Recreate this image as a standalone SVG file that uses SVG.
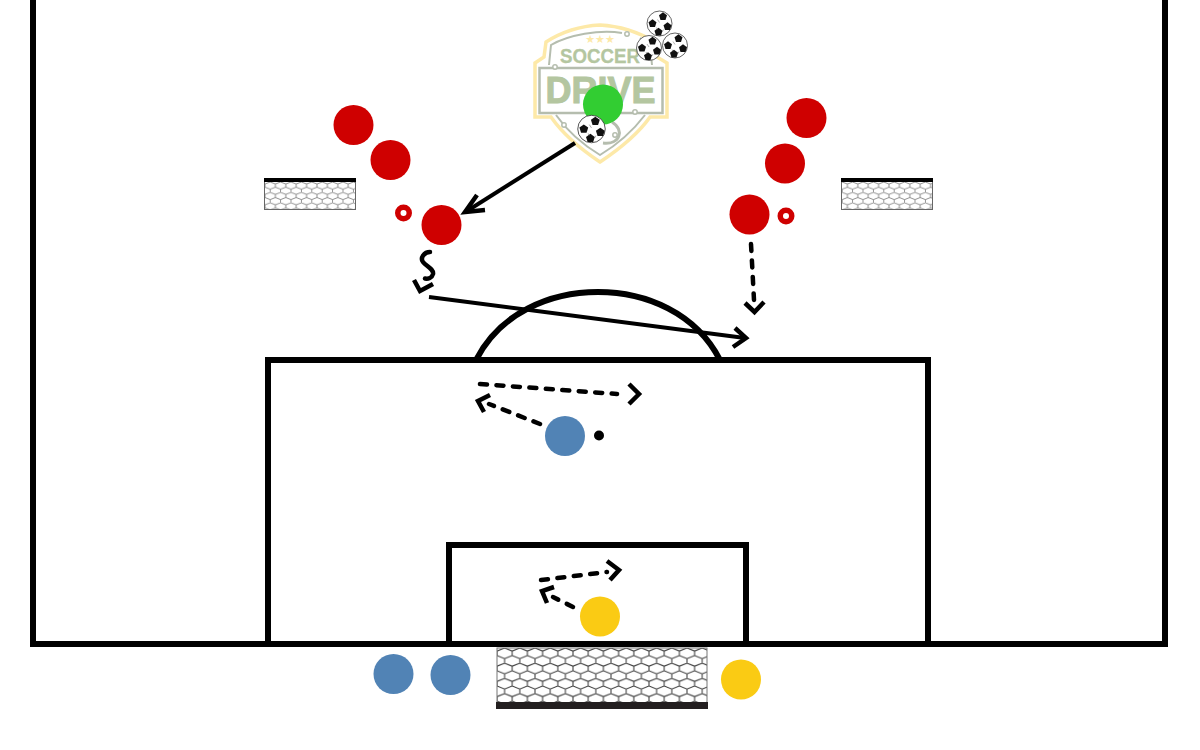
<svg xmlns="http://www.w3.org/2000/svg" width="1200" height="750" viewBox="0 0 1200 750">
<style>
.line{fill:none;stroke:#000;stroke-width:6}
.arrow{fill:none;stroke:#000;stroke-width:4.500;stroke-linecap:round}
.solid{fill:none;stroke:#000;stroke-width:4}
.dash{stroke-dasharray:7 9.500}
.head{fill:none;stroke:#000;stroke-width:4.500;stroke-linecap:butt}
.red{fill:#cf0000}.blue{fill:#5183b5}.yellow{fill:#facb14}.green{fill:#32cd32}
.cone{fill:none;stroke:#cf0000;stroke-width:5.500}
.logo{font-family:"Liberation Sans",Arial,sans-serif;font-weight:700;fill:#b4c6a0;stroke:#b4c6a0}
.lg{fill:none;stroke:#b5bdae;stroke-width:2}
</style>
<defs>
<pattern id="bigNet" width="15.200" height="15.200" patternUnits="userSpaceOnUse" x="497" y="648">
<path d="M0 3 L7.600 0 L15.200 3 M0 3 V7.600 M15.200 3 V7.600 M0 7.600 L7.600 10.600 L15.200 7.600 M7.600 10.600 V15.200" fill="none" stroke="#333" stroke-width="1"/>
</pattern>
<pattern id="smallNet" width="10.400" height="10.400" patternUnits="userSpaceOnUse" x="265" y="182">
<path d="M0 2 L5.200 0 L10.400 2 M0 2 V5.200 M10.400 2 V5.200 M0 5.200 L5.200 7.200 L10.400 5.200 M5.200 7.200 V10.400" fill="none" stroke="#777" stroke-width="0.800"/>
</pattern>
<path id="pent" d="M0 -4.200 L4 -1.300 L2.500 3.400 L-2.500 3.400 L-4 -1.300Z" fill="#111"/>
<g id="ball">
<circle r="12.500" fill="#fff" stroke="#222" stroke-width="0.700"/>
<use href="#pent" x="3.500" y="-7"/>
<use href="#pent" x="-7" y="0"/>
<use href="#pent" x="8" y="3"/>
<use href="#pent" x="-1" y="8.500"/>
<path d="M-2 -4 L0 -1 M-3 4 L-2 6 M4 6 L3 8" stroke="#666" stroke-width="0.500" fill="none"/>
</g>
</defs>
<rect width="1200" height="750" fill="#fff"/>
<g id="logo">
<path d="M600 25 C580 26 560 33 546 42 L544 57 L535 63 L535 117 L551 117 C565 137 585 152 600 162 C615 152 636 137 650 117 L667 117 L667 63 L657 57 L655 42 C640 33 620 26 600 25Z" fill="#fff" stroke="#fde9a8" stroke-width="3.500"/>
<path d="M622 33 C600 29 568 35 551 45 L549 65 M640 38 L650 45 L652 65 M556 115 C568 132 585 146 600 155 C615 146 632 132 645 115" class="lg"/>
<rect x="539.500" y="68" width="123" height="45" fill="none" stroke="#b5bdae" stroke-width="2.500"/>
<path d="M612 122 C625 130 620 145 603 143" fill="none" stroke="#b5bdae" stroke-width="3"/>
<text class="logo" x="600" y="63" font-size="20" text-anchor="middle" stroke-width="0.300" textLength="80" lengthAdjust="spacingAndGlyphs">SOCCER</text>
<text class="logo" x="600.500" y="103" font-size="36" text-anchor="middle" stroke-width="1" textLength="110" lengthAdjust="spacingAndGlyphs">DRIVE</text>
<text x="600" y="43" font-size="11" text-anchor="middle" fill="#fde9a8" font-family="'DejaVu Sans',sans-serif">★★★</text>
<g fill="#fff" stroke="#b5bdae" stroke-width="1.500"><circle cx="555" cy="67" r="2.200"/><circle cx="627" cy="34" r="2.200"/><circle cx="635" cy="112" r="2.200"/><circle cx="564" cy="125" r="2.200"/><circle cx="615" cy="135" r="2.200"/></g>
</g>
<g id="pitch">
<path class="line" d="M33 0V644M1165 0V644M30 644H1168"/>
<path class="line" d="M268 644V360H928V644"/>
<path class="line" d="M449 644V545H746V644"/>
<path class="line" d="M476 360C500 313 550 292 598 292C646 292 696 313 720 360"/>
</g>
<g id="goal-main">
<rect x="497" y="648" width="210" height="55" fill="url(#bigNet)" stroke="#777" stroke-width="1"/>
<rect x="496" y="702" width="212" height="7" fill="#231f20"/>
</g>
<g id="goal-left">
<rect x="264.500" y="180.500" width="91" height="29" fill="url(#smallNet)" stroke="#666" stroke-width="1"/>
<rect x="264" y="178" width="92" height="4" fill="#000"/>
</g>
<g id="goal-right">
<rect x="841.500" y="180.500" width="91" height="29" fill="url(#smallNet)" stroke="#666" stroke-width="1"/>
<rect x="841" y="178" width="92" height="4" fill="#000"/>
</g>
<g id="connectors">
<path class="solid" d="M575 143L467 211"/><path class="head" d="M477 195L465 212L485 210"/>
<path class="arrow" d="M430 252C424 252 420 258 423 262C426 266 434 269 433 274C432 278 428 279 425 278.500" stroke-width="3.500"/>
<path class="head" d="M433 284L420 291L414 280"/>
<path class="solid" d="M429 297L745 338"/><path class="head" d="M735 328L746 338L733 347"/>
<path class="arrow dash" d="M751 244L754 300"/><path class="head" d="M745 303L754.500 312L764 302"/>
<path class="arrow dash" d="M480 384L617 394"/><path class="head" d="M629 384L639 394L629 404"/>
<path class="arrow dash" d="M540 424L489 404"/><path class="head" d="M490 395L478 401L484 412"/>
<path class="arrow dash" d="M541 580L607 572"/><path class="head" d="M607 561L619 570L610 580"/>
<path class="arrow dash" d="M573 607L553 597"/><path class="head" d="M554 587L542 591L547 603"/>
</g>
<g id="red-1"><circle class="red" cx="353.500" cy="125" r="20"/></g>
<g id="red-2"><circle class="red" cx="390.500" cy="160" r="20"/></g>
<g id="red-3"><circle class="red" cx="441.500" cy="225" r="20"/></g>
<g id="red-4"><circle class="red" cx="806.500" cy="118" r="20"/></g>
<g id="red-5"><circle class="red" cx="785" cy="163.500" r="20"/></g>
<g id="red-6"><circle class="red" cx="749.500" cy="214.500" r="20"/></g>
<g id="cone-left"><circle class="cone" cx="403.500" cy="213" r="5.750"/></g>
<g id="cone-right"><circle class="cone" cx="786" cy="216" r="5.750"/></g>
<g id="coach"><circle class="green" cx="603" cy="104.500" r="20"/></g>
<g id="balls">
<use href="#ball" transform="translate(591.500 129) scale(1.100)"/>
<use href="#ball" transform="translate(659.500 23.500)"/>
<use href="#ball" transform="translate(649 48)"/>
<use href="#ball" transform="translate(675 45.500)"/>
</g>
<g id="blue-1"><circle class="blue" cx="565" cy="436" r="20"/></g>
<g id="ball-dot"><circle cx="599" cy="435.500" r="5" fill="#000"/></g>
<g id="yellow-1"><circle class="yellow" cx="600" cy="616.500" r="20"/></g>
<g id="blue-2"><circle class="blue" cx="393.500" cy="674" r="20"/></g>
<g id="blue-3"><circle class="blue" cx="450.500" cy="675" r="20"/></g>
<g id="yellow-2"><circle class="yellow" cx="741" cy="679.500" r="20"/></g>
</svg>
